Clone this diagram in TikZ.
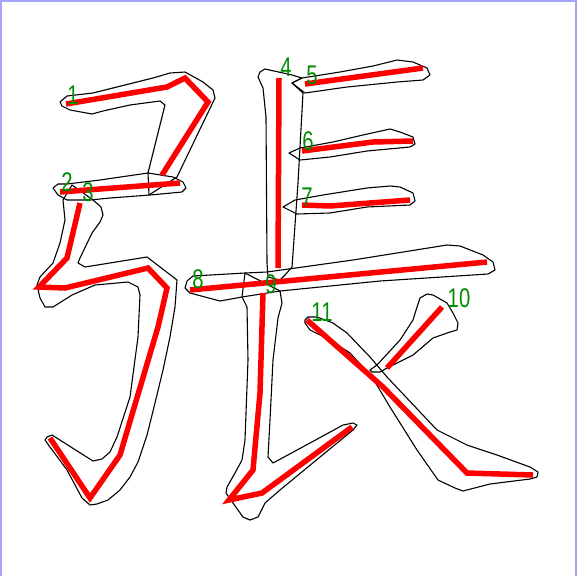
\documentclass[tikz,border=0pt]{standalone}
\usepackage{fontspec}
\setmainfont{Liberation Sans}
\definecolor{sgreen}{RGB}{0,140,0}
\definecolor{sred}{RGB}{255,0,0}
\definecolor{sframe}{RGB}{165,165,255}
\tikzset{
  outl/.style={draw=black, line width=1.1pt, line join=round},
  redl/.style={draw=sred, line width=5.5pt, line join=miter},
  num/.style={text=sgreen, font=\fontsize{27}{27}\selectfont, inner sep=0pt},
  frm/.style={draw=sframe, line width=2pt}
}
\begin{document}
\begin{tikzpicture}[x=1pt,y=-1pt]
\useasboundingbox (0,0) rectangle (577,576);
\fill[white] (0,0) rectangle (577,576);
\coordinate (f1) at (1,576);
\coordinate (f2) at (1,1);
\coordinate (f3) at (576,1);
\coordinate (f4) at (576,576);
\draw[frm] (f1) -- (f2) -- (f3) -- (f4);

% outlines
% stroke 1
\draw[outl] (60,102)--(67,96)--(93,93)--(117,87)--(153,78)--(170,73)--(185,72)--(203,82)--(213,90)--(215,98)--(177,177)--(149,195)--(148,173)--(165,105)--(160,101)--(130,105)--(103,111)--(92,114)--(70,110)--(62,106)--cycle;
% stroke 2
\draw[outl] (53,188)--(58,184)--(67,184)--(100,180)--(148,173)--(173,177)--(183,182)--(186,188)--(182,192)--(150,195)--(110,198)--(90,200)--(67,200)--(58,195)--cycle;
% stroke 3
\draw[outl] (72,185)--(93,200)--(101,207)--(103,215)--(100,222)--(92,233)--(80,258)--(78,263)--(85,267)--(147,257)--(177,280)--(175,307)--(170,337)--(163,370)--(155,403)--(147,435)--(138,462)--(130,477)--(120,490)--(108,500)--(97,504)--(90,505)--(82,498)--(67,470)--(50,447)--(45,440)--(47,437)--(52,435)--(93,461)--(102,459)--(110,452)--(117,437)--(130,397)--(138,337)--(140,295)--(138,287)--(128,282)--(95,285)--(72,295)--(53,307)--(45,307)--(40,298)--(37,285)--(40,277)--(53,263)--(60,243)--(65,220)--(63,200)--cycle;
% stroke 4
\draw[outl] (258,77)--(260,72)--(265,69)--(292,75)--(302,78)--(292,83)--(303,93)--(298,183)--(292,267)--(285,275)--(280,280)--(268,277)--(267,263)--(266,117)--(263,88)--cycle;
% stroke 5
\draw[outl] (292,83)--(302,78)--(340,72)--(373,66)--(397,60)--(413,62)--(427,68)--(430,75)--(423,80)--(397,82)--(347,87)--(305,93)--cycle;
% stroke 6
\draw[outl] (289,153)--(300,148)--(333,142)--(363,135)--(390,129)--(400,132)--(413,137)--(415,144)--(410,147)--(367,151)--(330,157)--(300,160)--cycle;
% stroke 7
\draw[outl] (283,207)--(295,200)--(323,195)--(367,188)--(390,186)--(400,187)--(413,193)--(415,201)--(410,205)--(367,207)--(330,213)--(297,214)--cycle;
% stroke 8
\draw[outl] (187,281)--(193,276)--(245,273)--(267,272)--(353,260)--(447,245)--(460,246)--(483,255)--(493,262)--(495,270)--(488,274)--(380,281)--(280,291)--(242,297)--(220,301)--(190,293)--(185,288)--cycle;
% stroke 9
\draw[outl] (245,273)--(242,297)--(247,307)--(248,360)--(245,440)--(242,460)--(235,473)--(227,487)--(226,493)--(233,503)--(243,517)--(250,520)--(258,517)--(265,503)--(280,490)--(320,457)--(353,430)--(357,425)--(353,423)--(343,425)--(310,443)--(273,463)--(268,457)--(270,420)--(273,360)--(278,318)--(282,303)--(280,291)--cycle;
% stroke 10
\draw[outl] (370,370)--(377,365)--(400,340)--(413,320)--(417,307)--(420,298)--(427,294)--(433,295)--(447,303)--(453,313)--(458,323)--(457,330)--(450,332)--(433,338)--(413,355)--(387,368)--(380,372)--(372,372)--cycle;
% stroke 11
\draw[outl] (305,320)--(308,317)--(317,317)--(333,323)--(347,333)--(370,357)--(387,377)--(437,430)--(467,445)--(497,455)--(530,467)--(538,472)--(537,477)--(530,479)--(490,484)--(463,491)--(455,488)--(438,480)--(417,450)--(390,407)--(372,377)--(350,353)--(330,340)--(310,330)--(305,323)--cycle;

% red strokes
\draw[redl] (66,104)--(167,87)--(185,78)--(208,102)--(162,175);
\draw[redl] (60,192)--(180,183);
\draw[redl] (80,203)--(67,258)--(39,287)--(65,288)--(148,268)--(167,288)--(158,327)--(120,455)--(90,498)--(50,438);
\draw[redl] (279,78)--(278,268);
\draw[redl] (305,84)--(423,68);
\draw[redl] (302,151)--(373,142)--(413,141);
\draw[redl] (302,205)--(330,206)--(410,200);
\draw[redl] (190,290)--(487,262);
\draw[redl] (263,293)--(260,393)--(253,470)--(229,500)--(262,493)--(352,427);
\draw[redl] (387,368)--(442,307);
\draw[redl] (307,320)--(383,387)--(467,473)--(533,475);

% numbers
\node[num] (n1) at (73,95) {\scalebox{0.75}[1]{1}};
\node[num] (n2) at (67,182) {\scalebox{0.75}[1]{2}};
\node[num] (n3) at (88,192) {\scalebox{0.75}[1]{3}};
\node[num] (n4) at (286,67) {\scalebox{0.75}[1]{4}};
\node[num] (n5) at (312,75) {\scalebox{0.75}[1]{5}};
\node[num] (n6) at (308,141) {\scalebox{0.75}[1]{6}};
\node[num] (n7) at (307,197) {\scalebox{0.75}[1]{7}};
\node[num] (n8) at (198,279) {\scalebox{0.75}[1]{8}};
\node[num] (n9) at (271,284) {\scalebox{0.75}[1]{9}};
\node[num] (n10) at (459,298) {\scalebox{0.75}[1]{10}};
\node[num] (n11) at (322,312) {\scalebox{0.75}[1]{11}};
\end{tikzpicture}
\end{document}
